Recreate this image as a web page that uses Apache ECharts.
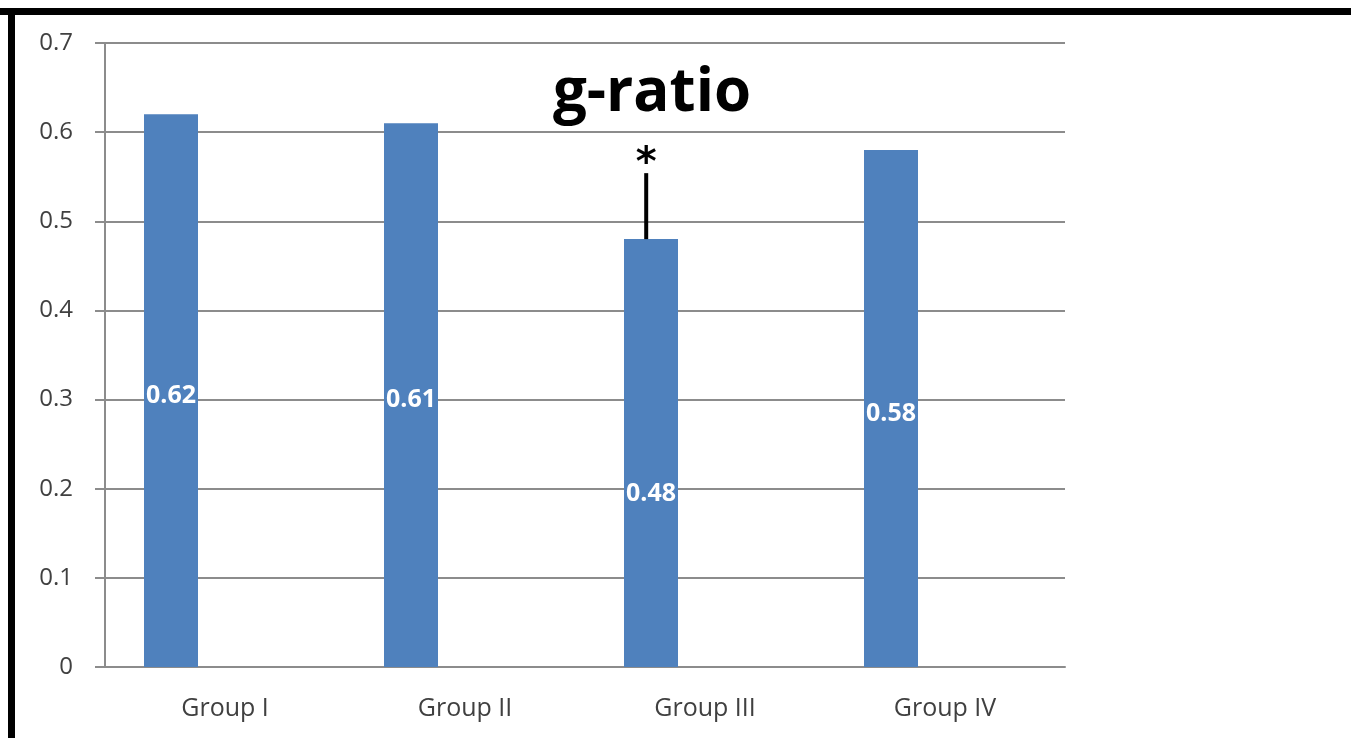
<!DOCTYPE html>
<html><head><meta charset="utf-8">
<script src="https://cdn.jsdelivr.net/npm/echarts@6/dist/echarts.min.js"></script>
<style>html,body{margin:0;padding:0;background:#fff}#c{width:1351px;height:738px}</style>
</head><body><div id="c"></div>
<script>
const categories = ['Group I', 'Group II', 'Group III', 'Group IV'];
const gRatio = [0.62, 0.61, 0.48, 0.58];
const errorUpper = [null, null, 0.554, null];
const significance = ['', '', '*', ''];
const placeholder = [null, null, null, null];
const yTicks = [0, 0.1, 0.2, 0.3, 0.4, 0.5, 0.6, 0.7];

const chart = echarts.init(document.getElementById('c'));
const barData = gRatio.map((v, i) => i === 2
  ? { value: v, label: { offset: [0, 41] } }
  : v);

chart.setOption({
  animation: false,
  title: {
    text: 'g-ratio', left: 647, top: 59, textAlign: 'center',
    textStyle: { fontFamily: 'Open Sans', fontWeight: 'bold', fontSize: 60, color: '#000' }
  },
  graphic: [
    { type: 'rect', shape: { x: 0, y: 8, width: 1351, height: 7 }, style: { fill: '#000' }, z: 100 },
    { type: 'rect', shape: { x: 8, y: 8, width: 7, height: 730 }, style: { fill: '#000' }, z: 100 }
  ],
  grid: { left: 105, right: 286, top: 43, bottom: 71 },
  xAxis: {
    type: 'category', data: categories,
    axisLine: { lineStyle: { color: '#8c8c8c', width: 2 } },
    axisTick: { length: 10, lineStyle: { color: '#8c8c8c', width: 2 } },
    axisLabel: { margin: 29, fontFamily: 'Open Sans', fontSize: 25, color: '#404040' }
  },
  yAxis: {
    type: 'value', min: 0, max: 0.7, interval: 0.1,
    axisLine: { show: true, lineStyle: { color: '#8c8c8c', width: 2 } },
    axisTick: { show: true, length: 10, lineStyle: { color: '#8c8c8c', width: 2 } },
    splitLine: { lineStyle: { color: '#8c8c8c', width: 2 } },
    axisLabel: { margin: 32, fontFamily: 'Open Sans', fontSize: 24, color: '#404040',
      formatter: v => (yTicks.includes(Math.round(v * 10) / 10) ? String(Math.round(v * 10) / 10) : '') }
  },
  series: [
    {
      type: 'bar', data: barData, barWidth: 54, barGap: '0%',
      itemStyle: { color: '#4F81BD' },
      label: { show: true, position: 'inside', offset: [0, 5], color: '#fff', fontFamily: 'Open Sans',
        fontWeight: 'bold', fontSize: 25, formatter: p => String(p.value) }
    },
    { type: 'bar', data: placeholder, barWidth: 54, barGap: '0%' },
    { type: 'bar', data: placeholder, barWidth: 54, barGap: '0%' },
    {
      type: 'custom', z: 10,
      data: categories.map((c, i) => [i, gRatio[i], errorUpper[i]]),
      renderItem: (params, api) => {
        const i = api.value(0);
        const top = errorUpper[i];
        if (top == null) return null;
        const band = api.size([1, 0])[0];
        const p0 = api.coord([i, api.value(1)]);
        const p1 = api.coord([i, top]);
        const x = p0[0] - band * 0.245;
        return {
          type: 'group', children: [
            { type: 'line', shape: { x1: x, y1: p0[1], x2: x, y2: p1[1] }, style: { stroke: '#000', lineWidth: 4 } },
            { type: 'text', style: { text: significance[i], x: x, y: p1[1] + 11, align: 'center', verticalAlign: 'bottom',
              font: 'bold 40px "DejaVu Sans"', fill: '#000' } }
          ]
        };
      }
    }
  ]
});
</script></body></html>
